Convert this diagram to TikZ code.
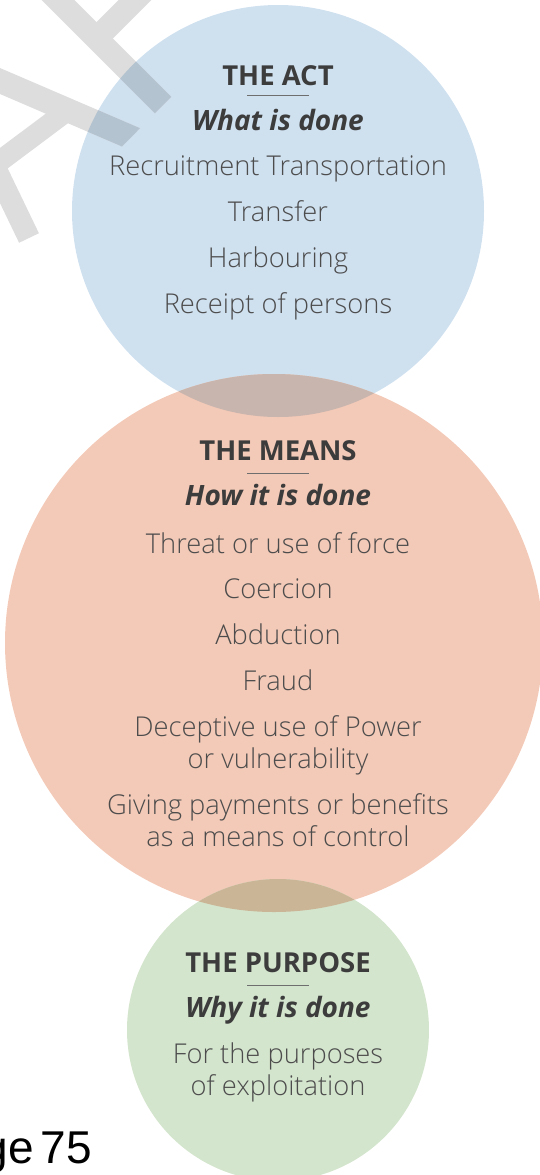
\documentclass[tikz,border=0pt]{standalone}
\usepackage{fontspec}
\setmainfont{Open Sans}
\IfFontExistsTF{Open Sans Light}{\newfontfamily\bodyfnt{Open Sans Light}}{\newfontfamily\bodyfnt{Open Sans}}
\newfontfamily\pagefnt{Liberation Sans}
\definecolor{actfill}{HTML}{CFE0EF}
\definecolor{meansfill}{HTML}{F3C9B7}
\definecolor{purpfill}{HTML}{D4E5CD}
\definecolor{ovAM}{HTML}{C8B5AE}
\definecolor{ovMP}{HTML}{CBB597}
\definecolor{wmark}{HTML}{DDDDDD}
\definecolor{wmarkblue}{HTML}{B4C3D0}
\definecolor{headcol}{HTML}{3C3C3C}
\definecolor{bodycol}{HTML}{4C4C4C}
\definecolor{rulecol}{HTML}{6E6E6E}
\newcommand\wmbars[1]{%
  \draw[#1, line width=23pt] (28,-30) -- (163,105);
  \draw[#1, line width=23pt] (96.5,38.5) -- (160,-25);
  \fill[#1] (-10,63.7) -- (140,128.2) -- (122,146.5) -- (-10,89.7) -- cycle;
  \draw[#1, line width=21pt] (65.5,112) -- (-10,168.5);
  \draw[#1, line width=22pt] (-10,157) -- (29,238);
}
\tikzset{
  bubble/.style={circle, inner sep=0pt, draw=none},
  headtxt/.style={anchor=base, text=headcol, inner sep=0pt, font=\fontsize{27.5}{30}\selectfont\bfseries},
  subtxt/.style={anchor=base, text=headcol, inner sep=0pt, font=\fontsize{28}{30}\selectfont\bfseries\itshape},
  itemtxt/.style={anchor=base, text=bodycol, inner sep=0pt, align=center, font=\bodyfnt\fontsize{27.3}{32}\selectfont},
  sepline/.style={draw=rulecol, line width=1pt}
}
\begin{document}
\begin{tikzpicture}[x=1pt,y=-1pt]
\useasboundingbox (0,0) rectangle (540,1175);
% circles
\node[bubble, fill=actfill, minimum size=412pt] (act) at (278,211) {};
\node[bubble, fill=meansfill, minimum size=538pt] (means) at (274,643) {};
\node[bubble, fill=purpfill, minimum size=302pt] (purp) at (278,1030) {};
% overlaps
\begin{scope}
  \clip (278,211) circle[radius=206pt];
  \fill[ovAM] (274,643) circle[radius=269pt];
\end{scope}
\begin{scope}
  \clip (274,643) circle[radius=269pt];
  \fill[ovMP] (278,1030) circle[radius=151pt];
\end{scope}
% watermark
\wmbars{wmark}
\begin{scope}
  \clip (278,211) circle[radius=206pt];
  \wmbars{wmarkblue}
\end{scope}
% THE ACT
\node[headtxt] (acthead) at (278,85) {THE ACT};
\path[sepline] (247,95) -- (309,95);
\node[subtxt] (actsub) at (278,130) {What is done};
\node[itemtxt] (a1) at (278,175) {Recruitment Transportation};
\node[itemtxt] (a2) at (278,221) {Transfer};
\node[itemtxt] (a3) at (278,267) {Harbouring};
\node[itemtxt] (a4) at (278,313) {Receipt of persons};
% THE MEANS
\node[headtxt] (meanshead) at (278,460) {THE MEANS};
\path[sepline] (247,473) -- (309,473);
\node[subtxt] (meanssub) at (278,505) {How it is done};
\node[itemtxt] (m1) at (278,553) {Threat or use of force};
\node[itemtxt] (m2) at (278,598) {Coercion};
\node[itemtxt] (m3) at (278,644) {Abduction};
\node[itemtxt] (m4) at (278,690) {Fraud};
\node[itemtxt] (m5) at (278,768) {Deceptive use of Power\\or vulnerability};
\node[itemtxt] (m6) at (278,846) {Giving payments or benefits\\as a means of control};
% THE PURPOSE
\node[headtxt] (purphead) at (278,972) {THE PURPOSE};
\path[sepline] (247,985) -- (309,985);
\node[subtxt] (purpsub) at (278,1017) {Why it is done};
\node[itemtxt] (p1) at (278,1095) {For the purposes\\of exploitation};
% page number
\node[anchor=base east, inner sep=0pt, font=\pagefnt\fontsize{46}{50}\selectfont] (pagenum) at (92,1163) {ge\hspace{7pt}75};
\end{tikzpicture}
\end{document}
